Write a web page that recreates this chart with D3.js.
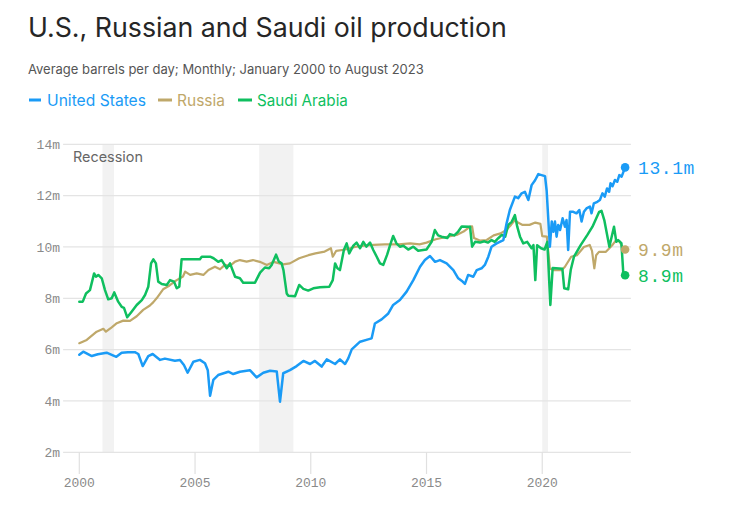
<!DOCTYPE html>
<html><head><meta charset="utf-8">
<script src="https://cdn.jsdelivr.net/npm/d3@7"></script>
<style>
body{margin:0;background:#fff;}
svg{display:block;}
</style></head>
<body>
<svg id="chart" width="737" height="505"></svg>
<script>
const titleText = "U.S., Russian and Saudi oil production";
const subtitleText = "Average barrels per day; Monthly; January 2000 to August 2023";
const seriesNames = ["United States", "Russia", "Saudi Arabia"];
const seriesColors = ["#1a9bf6", "#bfa86a", "#0fbf5f"];
const endLabels = ["13.1m", "9.9m", "8.9m"];
const yTicks = [2, 4, 6, 8, 10, 12, 14];
const xTicks = [2000, 2005, 2010, 2015, 2020];
const recessions = [[2001.0, 2001.5], [2007.77, 2009.25], [2020.0, 2020.25]];

// [decimal year, million barrels per day]
const unitedStates = [[2000.0,5.8],[2000.17,5.92],[2000.54,5.75],[2000.8,5.82],[2001.18,5.88],[2001.6,5.72],[2001.83,5.88],[2002.1,5.9],[2002.4,5.9],[2002.55,5.83],[2002.74,5.36],[2002.98,5.75],[2003.17,5.83],[2003.49,5.6],[2003.7,5.65],[2004.13,5.57],[2004.35,5.6],[2004.52,5.4],[2004.68,5.1],[2004.93,5.53],[2005.21,5.6],[2005.43,5.47],[2005.55,5.2],[2005.65,4.2],[2005.79,4.82],[2006.0,5.01],[2006.44,5.14],[2006.65,5.05],[2006.94,5.14],[2007.37,5.2],[2007.66,4.92],[2007.95,5.1],[2008.24,5.18],[2008.53,5.15],[2008.67,3.97],[2008.81,5.08],[2009.1,5.2],[2009.39,5.36],[2009.68,5.56],[2009.97,5.44],[2010.18,5.56],[2010.47,5.34],[2010.69,5.62],[2011.05,5.44],[2011.26,5.62],[2011.48,5.44],[2011.62,5.66],[2011.77,6.01],[2012.13,6.31],[2012.48,6.4],[2012.63,6.44],[2012.77,7.02],[2013.06,7.18],[2013.35,7.41],[2013.56,7.74],[2013.85,7.93],[2014.14,8.26],[2014.43,8.71],[2014.72,9.23],[2014.93,9.49],[2015.15,9.65],[2015.37,9.42],[2015.58,9.49],[2015.87,9.36],[2016.16,9.1],[2016.37,8.78],[2016.56,8.65],[2016.66,8.56],[2016.8,8.91],[2017.02,8.84],[2017.17,9.1],[2017.38,9.17],[2017.52,9.3],[2017.67,9.62],[2017.81,10.01],[2018.03,10.14],[2018.32,10.27],[2018.46,10.92],[2018.6,11.44],[2018.82,11.96],[2018.96,11.9],[2019.11,12.09],[2019.25,12.15],[2019.4,11.83],[2019.54,12.41],[2019.69,12.6],[2019.83,12.84],[2019.97,12.8],[2020.12,12.76],[2020.19,12.2],[2020.33,10.01],[2020.41,10.99],[2020.48,10.59],[2020.55,10.99],[2020.62,10.4],[2020.69,10.86],[2020.77,10.66],[2020.88,11.12],[2020.98,10.79],[2021.05,11.05],[2021.12,9.88],[2021.2,11.37],[2021.34,11.37],[2021.48,11.31],[2021.6,11.44],[2021.7,10.99],[2021.8,11.37],[2021.91,11.5],[2022.06,11.57],[2022.13,11.31],[2022.23,11.7],[2022.38,11.76],[2022.49,11.83],[2022.6,12.09],[2022.7,11.96],[2022.8,12.28],[2022.89,12.15],[2022.95,12.48],[2023.04,12.37],[2023.14,12.61],[2023.24,12.54],[2023.33,12.8],[2023.43,12.74],[2023.58,13.1]];

const russia = [[2000.0,6.25],[2000.32,6.38],[2000.75,6.7],[2001.04,6.81],[2001.15,6.7],[2001.4,6.87],[2001.62,7.03],[2001.9,7.13],[2002.19,7.12],[2002.48,7.3],[2002.76,7.55],[2003.05,7.72],[2003.2,7.85],[2003.34,8.0],[2003.62,8.35],[2003.9,8.5],[2004.19,8.7],[2004.48,8.85],[2004.57,9.04],[2004.79,8.91],[2005.07,8.97],[2005.36,8.91],[2005.58,9.1],[2005.86,9.23],[2006.08,9.13],[2006.29,9.3],[2006.51,9.26],[2006.73,9.43],[2006.94,9.49],[2007.23,9.43],[2007.5,9.49],[2007.8,9.42],[2008.1,9.3],[2008.4,9.42],[2008.8,9.32],[2009.1,9.36],[2009.5,9.56],[2009.9,9.68],[2010.2,9.75],[2010.6,9.82],[2010.87,9.95],[2010.95,9.62],[2011.1,9.85],[2011.5,9.9],[2011.9,10.0],[2012.3,10.05],[2012.7,10.08],[2013.2,10.1],[2013.8,10.1],[2014.3,10.14],[2014.7,10.1],[2015.0,10.17],[2015.4,10.3],[2015.8,10.38],[2016.3,10.47],[2016.6,10.6],[2016.88,10.79],[2016.97,10.8],[2017.05,10.35],[2017.3,10.25],[2017.6,10.27],[2017.9,10.45],[2018.2,10.53],[2018.45,10.66],[2018.65,10.86],[2018.82,11.05],[2018.95,10.95],[2019.15,10.86],[2019.45,10.86],[2019.7,10.95],[2019.92,10.9],[2020.0,10.42],[2020.2,10.4],[2020.33,9.15],[2020.5,9.1],[2020.85,9.1],[2020.98,9.23],[2021.25,9.62],[2021.5,9.68],[2021.8,10.0],[2022.05,10.08],[2022.15,9.85],[2022.25,9.17],[2022.33,9.68],[2022.45,9.81],[2022.75,9.81],[2022.9,9.95],[2023.05,10.1],[2023.2,10.27],[2023.35,10.2],[2023.45,10.01],[2023.58,9.9]];

const saudiArabia = [[2000.0,7.87],[2000.15,7.87],[2000.29,8.19],[2000.46,8.32],[2000.64,8.97],[2000.72,8.84],[2000.82,8.91],[2000.97,8.78],[2001.11,8.32],[2001.25,7.96],[2001.4,8.0],[2001.51,8.23],[2001.68,7.87],[2001.83,7.67],[2001.93,7.63],[2002.07,7.26],[2002.26,7.48],[2002.48,7.74],[2002.7,7.93],[2002.84,8.13],[2002.98,8.45],[2003.1,9.36],[2003.2,9.52],[2003.31,9.36],[2003.41,8.65],[2003.56,8.56],[2003.78,8.52],[2003.92,8.71],[2004.09,8.65],[2004.21,8.39],[2004.32,8.45],[2004.42,9.52],[2005.21,9.52],[2005.29,9.62],[2005.65,9.62],[2005.8,9.56],[2006.0,9.42],[2006.15,9.49],[2006.37,9.17],[2006.51,9.36],[2006.73,8.84],[2006.94,8.78],[2007.08,8.61],[2007.59,8.61],[2007.81,9.0],[2008.02,9.2],[2008.2,9.17],[2008.31,9.3],[2008.5,9.7],[2008.62,9.43],[2008.74,9.36],[2008.82,9.1],[2008.96,8.19],[2009.03,8.1],[2009.32,8.08],[2009.5,8.52],[2009.68,8.37],[2009.89,8.3],[2010.11,8.39],[2010.4,8.43],[2010.8,8.45],[2010.95,8.71],[2011.05,9.36],[2011.15,9.17],[2011.26,9.1],[2011.43,9.88],[2011.55,10.14],[2011.66,9.75],[2011.84,10.05],[2011.98,10.17],[2012.13,9.95],[2012.27,10.2],[2012.4,10.01],[2012.56,10.17],[2012.7,9.88],[2012.85,9.62],[2012.99,9.36],[2013.13,9.3],[2013.3,9.7],[2013.42,10.05],[2013.56,10.43],[2013.7,10.14],[2013.85,10.01],[2014.0,10.05],[2014.21,9.9],[2014.43,10.01],[2014.64,9.85],[2014.85,9.88],[2015.0,9.9],[2015.22,10.2],[2015.36,10.66],[2015.5,10.45],[2015.65,10.4],[2015.9,10.35],[2016.01,10.5],[2016.2,10.45],[2016.37,10.6],[2016.52,10.8],[2016.88,10.79],[2016.97,10.01],[2017.1,10.2],[2017.31,10.17],[2017.5,10.22],[2017.65,10.17],[2017.81,10.27],[2017.95,10.2],[2018.1,10.34],[2018.25,10.47],[2018.4,10.4],[2018.53,10.86],[2018.68,10.98],[2018.82,11.24],[2018.92,10.79],[2019.04,10.4],[2019.18,10.14],[2019.35,10.2],[2019.54,9.95],[2019.62,10.07],[2019.7,8.71],[2019.78,10.07],[2019.95,9.95],[2020.1,9.9],[2020.22,10.2],[2020.35,7.74],[2020.45,9.18],[2020.87,9.15],[2020.95,8.39],[2021.12,8.35],[2021.23,9.1],[2021.37,9.62],[2021.66,10.07],[2021.95,10.47],[2022.17,10.79],[2022.46,11.37],[2022.56,11.41],[2022.68,11.05],[2022.9,10.01],[2023.1,10.79],[2023.2,10.2],[2023.28,10.27],[2023.42,10.15],[2023.5,9.0],[2023.58,8.9]];

const seriesData = [unitedStates, russia, saudiArabia];

const svg = d3.select("#chart");
const sans = "Inter, 'Noto Sans', sans-serif";
const mono = "'Liberation Mono', 'DejaVu Sans Mono', monospace";

const x = d3.scaleLinear().domain([1999.3, 2023.83]).range([63.1, 630.9]);
const y = d3.scaleLinear().domain([2, 14]).range([452.3, 144.3]);

function fitText(sel, width) {
  const w = sel.node().getComputedTextLength();
  const fs = parseFloat(sel.attr("font-size"));
  sel.attr("font-size", (fs * width / w).toFixed(2));
}

// Title & subtitle
const title = svg.append("text").attr("x", 28).attr("y", 37)
  .attr("font-family", sans).attr("font-size", 26).attr("fill", "#262626")
  .attr("font-weight", 400).text(titleText);
fitText(title, 479);
const sub = svg.append("text").attr("x", 28).attr("y", 74)
  .attr("font-family", sans).attr("font-size", 14).attr("fill", "#555")
  .text(subtitleText);
fitText(sub, 396);

// Legend
const legendX = [[29, 41, 47, 99], [158, 172, 177, 48], [238, 252, 257, 91]];
seriesNames.forEach((name, i) => {
  const [l0, l1, tx, tw] = legendX[i];
  svg.append("line").attr("x1", l0).attr("x2", l1).attr("y1", 100).attr("y2", 100)
    .attr("stroke", seriesColors[i]).attr("stroke-width", 3);
  const t = svg.append("text").attr("x", tx).attr("y", 106)
    .attr("font-family", sans).attr("font-size", 16).attr("fill", seriesColors[i])
    .text(name);
  fitText(t, tw);
});

// Recession bands
svg.append("g").selectAll("rect").data(recessions).join("rect")
  .attr("x", d => x(d[0])).attr("width", d => x(d[1]) - x(d[0]))
  .attr("y", y(14)).attr("height", y(2) - y(14))
  .attr("fill", "#f2f2f2");

// Gridlines
svg.append("g").selectAll("line").data(yTicks).join("line")
  .attr("x1", x.range()[0]).attr("x2", x.range()[1])
  .attr("y1", d => y(d)).attr("y2", d => y(d))
  .attr("stroke", "#e4e4e4").attr("stroke-width", 1.2);

// Y labels
svg.append("g").selectAll("text").data(yTicks).join("text")
  .attr("x", 60).attr("y", d => y(d)).attr("dy", "0.36em")
  .attr("text-anchor", "end").attr("font-family", mono).attr("font-size", 13)
  .attr("fill", "#8a8a8a").text(d => d + "m");

// X ticks & labels
const xg = svg.append("g");
xg.selectAll("line").data(xTicks).join("line")
  .attr("x1", d => x(d)).attr("x2", d => x(d))
  .attr("y1", y(2)).attr("y2", 474)
  .attr("stroke", "#e0e0e0").attr("stroke-width", 1.2);
xg.selectAll("text").data(xTicks).join("text")
  .attr("x", d => x(d)).attr("y", 487).attr("text-anchor", "middle")
  .attr("font-family", mono).attr("font-size", 13).attr("fill", "#8a8a8a")
  .text(d => d);

// Recession label
const rl = svg.append("text").attr("x", 73).attr("y", 162)
  .attr("font-family", sans).attr("font-size", 14).attr("fill", "#666").text("Recession");
fitText(rl, 70);

// Lines (Russia, Saudi, US on top)
const line = d3.line().x(d => x(d[0])).y(d => y(d[1])).curve(d3.curveLinear);
const order = [1, 2, 0];
const widths = [2.5, 2.2, 2.5];
order.forEach(i => {
  svg.append("path").datum(seriesData[i]).attr("d", line)
    .attr("fill", "none").attr("stroke", seriesColors[i])
    .attr("stroke-width", widths[i]).attr("stroke-linejoin", "round").attr("stroke-linecap", "round");
});

// End dots & labels
seriesData.forEach((s, i) => {
  const last = s[s.length - 1];
  svg.append("circle").attr("cx", x(last[0])).attr("cy", y(last[1])).attr("r", 4.3)
    .attr("fill", seriesColors[i]);
  svg.append("text").attr("x", 638).attr("y", y(last[1])).attr("dy", "0.36em")
    .attr("font-family", mono).attr("font-size", 18).attr("letter-spacing", 0.6)
    .attr("fill", seriesColors[i]).text(endLabels[i]);
});
</script>
</body></html>
